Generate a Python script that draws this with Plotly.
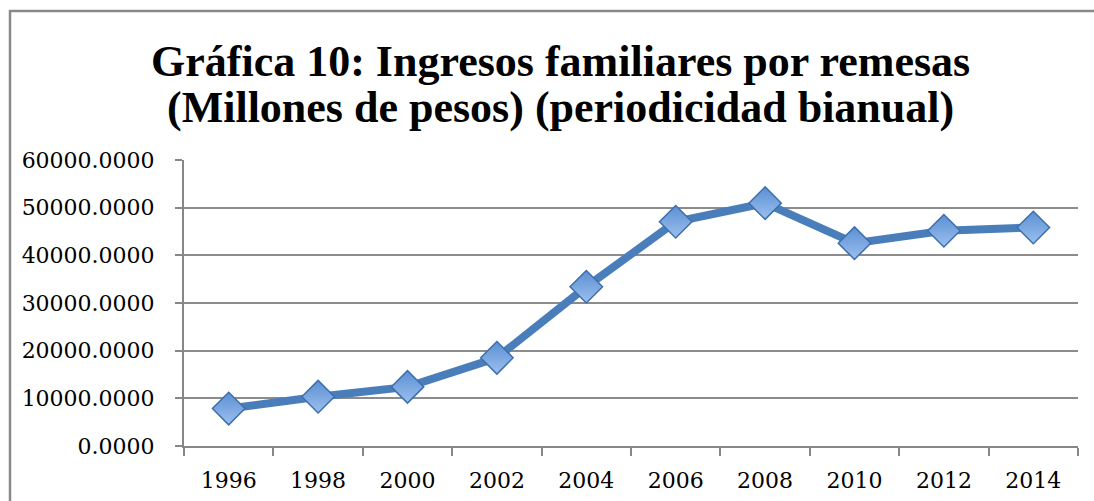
import plotly.graph_objects as go

years = ["1996", "1998", "2000", "2002", "2004", "2006", "2008", "2010", "2012", "2014"]
ingresos = [7850, 10350, 12400, 18500, 33400, 47050, 50950, 42550, 45150, 45850]
y_ticks = [0, 10000, 20000, 30000, 40000, 50000, 60000]
title_line1 = "Gráfica 10: Ingresos familiares por remesas"
title_line2 = "(Millones de pesos) (periodicidad bianual)"

W, H = 1094, 501
L, R, T, B = 184, 1078, 160, 446

def px_x(x):
    return (x - L) / (R - L)

def px_y(y):
    return (B - y) / (B - T)

fig = go.Figure()
fig.add_trace(go.Scatter(
    x=years, y=ingresos, mode="lines+markers",
    line=dict(color="#4a7ebb", width=8),
    marker=dict(symbol="diamond", size=25, color="#5b8fd3",
                gradient=dict(type="vertical", color="#9cc0ee"),
                line=dict(color="#3d6fae", width=1.5)),
    hoverinfo="x+y", showlegend=False,
))

fig.update_layout(
    width=W, height=H,
    margin=dict(l=L, r=W - R, t=T, b=H - B),
    paper_bgcolor="white", plot_bgcolor="white",
    xaxis=dict(type="category", range=[-0.5, 9.5], showgrid=False,
               showline=True, linecolor="#878787", linewidth=2,
               ticks="outside", tickson="boundaries", ticklen=8,
               tickcolor="#878787", tickwidth=1.5, ticklabelstandoff=14,
               automargin=False,
               tickfont=dict(family="DejaVu Serif", size=22, color="black")),
    yaxis=dict(range=[0, 60000], tickvals=y_ticks,
               ticktext=[f"{v:.4f}" for v in y_ticks],
               showgrid=True, gridcolor="#8c8c8c", gridwidth=1.5,
               showline=True, linecolor="#878787", linewidth=2,
               ticks="outside", ticklen=7, tickcolor="#878787", tickwidth=1.5,
               zeroline=False, ticklabelstandoff=16, automargin=False,
               tickfont=dict(family="DejaVu Serif", size=22, color="black")),
    shapes=[dict(type="rect", xref="paper", yref="paper",
                 x0=px_x(10), x1=px_x(1120), y0=px_y(530), y1=px_y(11),
                 line=dict(color="#8a8a8a", width=2.5), fillcolor="rgba(0,0,0,0)",
                 layer="below")],
    annotations=[
        dict(text=f"<b>{title_line1}</b>", xref="paper", yref="paper",
             x=px_x(560), y=px_y(62), xanchor="center", yanchor="middle",
             showarrow=False,
             font=dict(family="Liberation Serif", size=44, color="black")),
        dict(text=f"<b>{title_line2}</b>", xref="paper", yref="paper",
             x=px_x(560), y=px_y(108), xanchor="center", yanchor="middle",
             showarrow=False,
             font=dict(family="Liberation Serif", size=44, color="black")),
    ],
)

fig.write_html("out.html", config={"displayModeBar": False},
               post_script="document.body.style.margin='0';document.body.style.overflow='hidden';")
